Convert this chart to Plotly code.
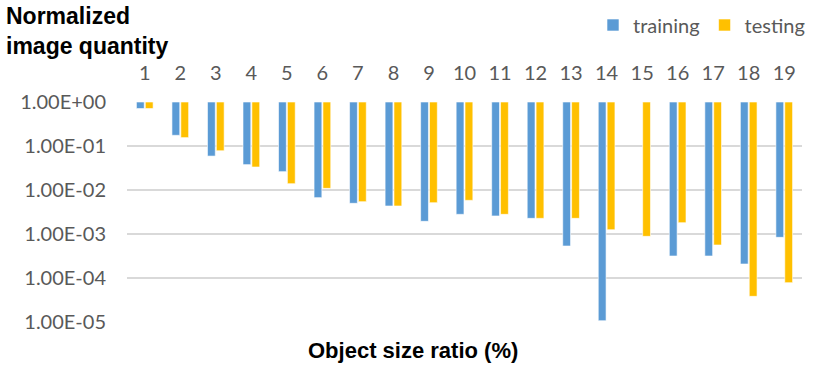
import plotly.graph_objects as go

sizes = [str(i) for i in range(1, 20)]
training = [0.71, 0.175, 0.059, 0.0377, 0.0261, 0.0067, 0.00498, 0.00433, 0.00194, 0.0028,
            0.00257, 0.00227, 0.000533, 1.07e-5, None, 0.000316, 0.000316, 0.000208, 0.00084]
testing = [0.71, 0.155, 0.078, 0.0333, 0.0139, 0.0109, 0.00543, 0.00433, 0.00515, 0.00582,
           0.0028, 0.00227, 0.00227, 0.00125, 0.000885, 0.00181, 0.000562, 3.83e-5, 7.83e-5]

tick_vals = [1, 1e-1, 1e-2, 1e-3, 1e-4, 1e-5]
tick_text = ['1.00E+00', '1.00E-01', '1.00E-02', '1.00E-03', '1.00E-04', '1.00E-05']

GRAY = '#595959'
L, R, T, B = 127, 28, 102, 47
PW, PH = 830 - L - R, 369 - T - B

fig = go.Figure()
# bars hang down from 1.00E+00: base at 1, length = value - 1
for name, vals, color in [('training', training, '#5b9bd5'), ('testing', testing, '#ffc000')]:
    fig.add_trace(go.Bar(
        x=sizes,
        y=[None if v is None else v - 1 for v in vals],
        base=1,
        name=name,
        marker=dict(color=color, line=dict(color='white', width=0.6)),
        customdata=vals,
        hovertemplate='%{x}: %{customdata:.2e}<extra>' + name + '</extra>'
    ))

fig.update_layout(
    width=830, height=369,
    margin=dict(l=L, r=R, t=T, b=B, autoexpand=False),
    plot_bgcolor='white', paper_bgcolor='white',
    barmode='group', bargap=0.5, bargroupgap=0.12,
    font=dict(family='Lato, Open Sans, sans-serif', size=20, color=GRAY),
    legend=dict(orientation='h', xref='container', yref='container',
                x=810 / 830, xanchor='right', y=1 - 25 / 369, yanchor='middle',
                font=dict(size=20, color=GRAY), traceorder='normal'),
    xaxis=dict(side='top', showline=False, showgrid=False, ticks='', automargin=False,
               ticklabelstandoff=17, tickfont=dict(size=20, color=GRAY)),
    yaxis=dict(type='log', range=[-5, 0], tickvals=tick_vals, ticktext=tick_text,
               showgrid=True, gridcolor='#d9d9d9', gridwidth=1.5, zeroline=False,
               showline=False, ticks='', ticklabelstandoff=20, automargin=False,
               tickfont=dict(size=20, color=GRAY)),
    annotations=[
        dict(text='<b>Normalized<br>image quantity</b>', x=(4 - L) / PW, y=1 + (T - 1) / PH,
             xref='paper', yref='paper', showarrow=False, xanchor='left', yanchor='top',
             align='left', font=dict(family='Liberation Sans, Arial', size=23, color='black')),
        dict(text='<b>Object size ratio (%)</b>', x=(413 - L) / PW, y=-(350 - (T + PH)) / PH,
             xref='paper', yref='paper', showarrow=False, xanchor='center', yanchor='middle',
             font=dict(family='Liberation Sans, Arial', size=22, color='black')),
    ]
)

fig.write_html("out.html", config={'displayModeBar': False},
               post_script="document.body.style.margin='0';document.body.style.overflow='hidden';")
